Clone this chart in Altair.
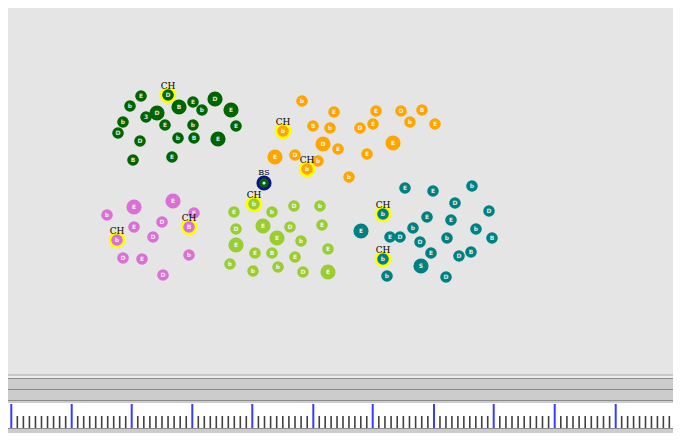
import altair as alt
import pandas as pd

# ---- node positions (page pixel coordinates) ----
green_x = [141, 168, 130, 179, 193, 215, 202, 231, 146, 157, 123, 165, 193, 236, 118, 178, 194, 218, 140, 133, 172]
green_y = [96, 95, 106, 107, 102, 99, 110, 110, 117, 113, 122, 125, 125, 126, 133, 138, 138, 139, 141, 160, 157]
green_big = [3, 5, 7, 9, 17]
green_ch = [1]
green_glyph = "EDbBEDbE3DbEbEDbBEDBE"

orange_x = [302, 334, 376, 401, 422, 283, 313, 330, 360, 373, 410, 435, 323, 338, 393, 275, 295, 318, 307, 367, 349]
orange_y = [101, 112, 111, 111, 110, 131, 126, 128, 128, 124, 122, 124, 144, 149, 143, 157, 155, 161, 169, 154, 177]
orange_big = [12, 14, 15]
orange_ch = [5, 18]
orange_glyph = "bEEDBbBbDEbEDEEEDbbEb"

pink_x = [134, 173, 107, 194, 134, 162, 189, 117, 153, 123, 142, 189, 163]
pink_y = [207, 201, 215, 213, 227, 222, 227, 240, 237, 258, 259, 255, 275]
pink_big = [0, 1]
pink_ch = [6, 7]
pink_glyph = "EEbEEDBbDDEbD"

lime_x = [254, 234, 272, 294, 320, 236, 263, 290, 322, 236, 277, 301, 255, 272, 295, 328, 230, 253, 278, 303, 328]
lime_y = [204, 212, 212, 206, 206, 229, 226, 227, 225, 245, 238, 241, 253, 253, 257, 249, 264, 271, 267, 272, 272]
lime_big = [6, 9, 10, 20]
lime_ch = [0]
lime_glyph = "bEbDbDEDEEEbEBEEbbbDE"

teal_x = [405, 433, 472, 383, 455, 489, 427, 451, 361, 413, 476, 492, 390, 400, 420, 447, 431, 459, 471, 383, 421, 387, 446]
teal_y = [188, 191, 186, 214, 203, 211, 217, 220, 231, 228, 229, 238, 237, 237, 242, 238, 253, 256, 252, 259, 266, 276, 277]
teal_big = [8, 20]
teal_ch = [3, 19]
teal_glyph = "EEbbDDEEEbbBEDDbEDBbSbD"

special_x = [264]
special_y = [183]
special_label = ["BS"]

# ---- bottom ruler ----
band_top = [374, 376, 378, 379, 389, 390, 400, 401, 403, 428, 429]
band_bottom = [376, 378, 379, 389, 390, 400, 401, 403, 428, 429, 441]
band_color = ["#c8c8c8", "#ececec", "#8a8a8a", "#cccccc", "#8a8a8a", "#cccccc",
              "#8a8a8a", "#cccccc", "#ffffff", "#8a8a8a", "#cccccc"]
major_ticks = [11.3, 71.7, 131.7, 192.3, 252.3, 313.3, 372.7, 434.0, 493.7, 554.7, 615.7, 675.3]

clusters = [
    ("#006400", green_x, green_y, green_big, green_ch, green_glyph),
    ("#ffa500", orange_x, orange_y, orange_big, orange_ch, orange_glyph),
    ("#da70d6", pink_x, pink_y, pink_big, pink_ch, pink_glyph),
    ("#9acd32", lime_x, lime_y, lime_big, lime_ch, lime_glyph),
    ("#008080", teal_x, teal_y, teal_big, teal_ch, teal_glyph),
]
rows = []
for color, xs, ys, big, ch, gl in clusters:
    for i, (x, y) in enumerate(zip(xs, ys)):
        rows.append(dict(x=x, y=y, c=color, s=230 if i in big else 135,
                         ch=("CH" if i in ch else ""), g=gl[i]))
nodes = pd.DataFrame(rows)
ch_nodes = nodes[nodes["ch"] != ""]
special = pd.DataFrame(dict(x=special_x, y=special_y, t=special_label))

bands = pd.DataFrame(dict(y0=band_top, y1=band_bottom, c=band_color))
minor = []
for a, b in zip(major_ticks[:-1], major_ticks[1:]):
    step = (b - a) / 10
    minor += [a + step * k for k in range(1, 10)]
minor.append(major_ticks[-1] + (major_ticks[-1] - major_ticks[-2]) / 10)
majors = pd.DataFrame(dict(x=major_ticks, y0=404, y1=428))
minors = pd.DataFrame(dict(x=minor, y0=416, y1=428))

# chart covers page pixels x 8..673, y 8..433 (scales map page coordinates 1:1)
W, H = 665, 425
xs = alt.Scale(domain=[8, 8 + W], nice=False, zero=False)
ys = alt.Scale(domain=[8, 8 + H], nice=False, zero=False, reverse=True)
X = lambda f="x": alt.X(f"{f}:Q", scale=xs, axis=None)
Y = lambda f="y": alt.Y(f"{f}:Q", scale=ys, axis=None)

band_layer = alt.Chart(bands).mark_rect(clip=True).encode(
    x=alt.value(0), x2=alt.value(W), y=Y("y0"), y2="y1:Q",
    color=alt.Color("c:N", scale=None))
major_layer = alt.Chart(majors).mark_rule(color="#3a3aff", strokeWidth=2, clip=True).encode(
    x=X(), y=Y("y0"), y2="y1:Q")
minor_layer = alt.Chart(minors).mark_rule(color="#404040", strokeWidth=1.6, clip=True).encode(
    x=X(), y=Y("y0"), y2="y1:Q")

ring_layer = alt.Chart(ch_nodes).mark_point(
    shape="circle", filled=False, color="#ffff00", strokeWidth=3.5, size=175, opacity=1).encode(
    x=X(), y=Y())
node_layer = alt.Chart(nodes).mark_point(shape="circle", filled=True, opacity=1, strokeWidth=0).encode(
    x=X(), y=Y(), color=alt.Color("c:N", scale=None), size=alt.Size("s:Q", scale=None))
glyph_layer = alt.Chart(nodes).mark_text(
    color="white", fontSize=6, font="DejaVu Sans", fontWeight="bold", baseline="middle", opacity=0.85).encode(
    x=X(), y=Y(), text="g:N")
ch_text = alt.Chart(ch_nodes).mark_text(
    color="black", fontSize=9, font="DejaVu Serif", dy=-9, baseline="middle").encode(
    x=X(), y=Y(), text="ch:N")

sp_outer = alt.Chart(special).mark_point(shape="circle", filled=True, color="#10108a", size=230, opacity=1).encode(x=X(), y=Y())
sp_inner = alt.Chart(special).mark_point(shape="circle", filled=True, color="#006400", size=90, opacity=1).encode(x=X(), y=Y())
sp_dot = alt.Chart(special).mark_point(shape="circle", filled=True, color="#e8ffe8", size=10, opacity=1).encode(x=X(), y=Y())
sp_text = alt.Chart(special).mark_text(color="black", fontSize=8, font="DejaVu Serif", dy=-10, baseline="middle").encode(
    x=X(), y=Y(), text="t:N")

chart = alt.layer(
    band_layer, major_layer, minor_layer,
    ring_layer, node_layer, glyph_layer, ch_text,
    sp_outer, sp_inner, sp_dot, sp_text,
).properties(
    width=W, height=H, padding=0, autosize=alt.AutoSizeParams(type="none"),
    background="#e5e5e5",
).configure_view(stroke=None)

chart.save("out.html", embed_options={"renderer": "svg", "actions": False})
